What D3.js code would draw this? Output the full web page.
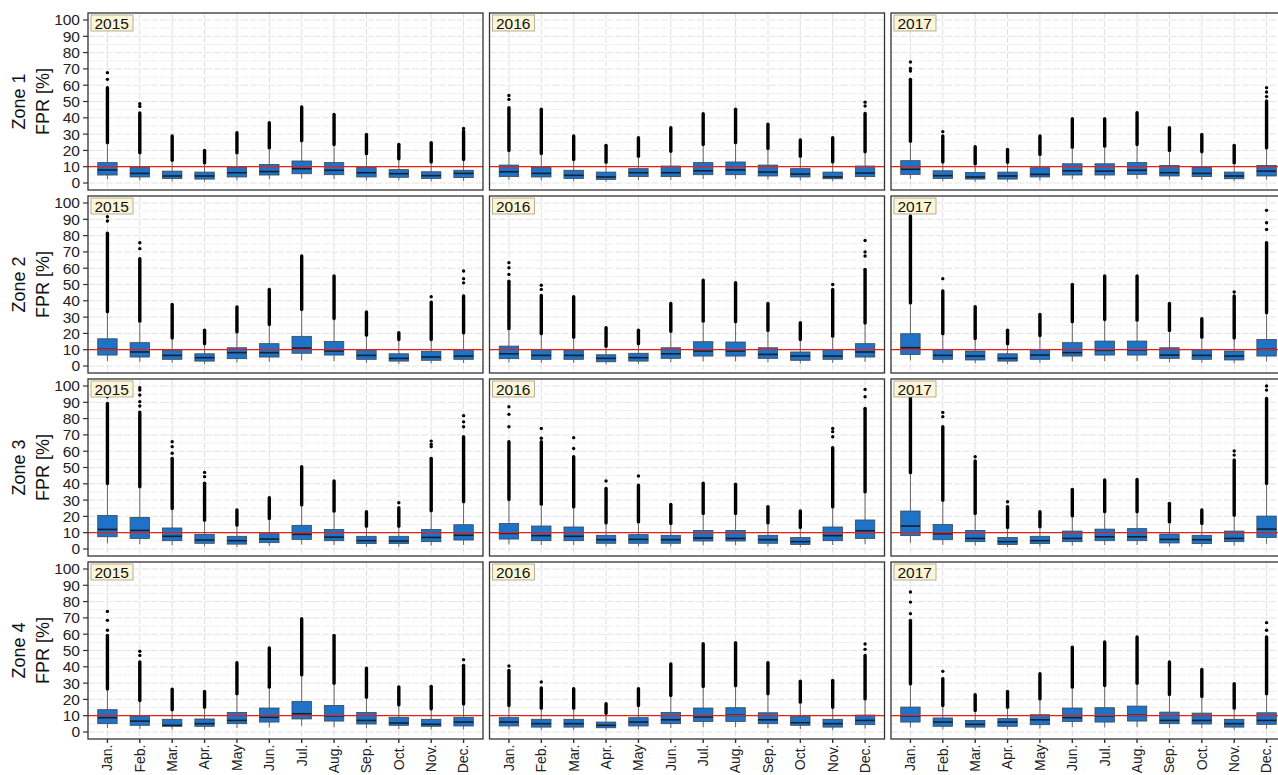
<!DOCTYPE html>
<html>
<head>
<meta charset="utf-8">
<script src="https://cdn.jsdelivr.net/npm/d3@7"></script>
<style>
  body { margin: 0; background: #fff; }
  svg text { font-family: "Liberation Sans", Arial, sans-serif; }
</style>
</head>
<body>
<div id="chart"></div>
<script>
var months = ["Jan.", "Feb.", "Mar.", "Apr.", "May", "Jun.", "Jul.", "Aug.", "Sep.", "Oct.", "Nov.", "Dec."];
var years = ["2015", "2016", "2017"];
var zones = ["Zone 1", "Zone 2", "Zone 3", "Zone 4"];
var yTicks = [0, 10, 20, 30, 40, 50, 60, 70, 80, 90, 100];
var threshold = 10;

// one row per month: [lower whisker, q1, median, q3, upper whisker, top of dense outliers, ...single outliers]
var z1_2015 = [
  [2.2, 4.9, 8, 12.5, 23.7, 58.5, 63.6, 67.7], [1.5, 3.7, 5.9, 9.6, 17.6, 43, 47, 48.6],
  [1, 2.8, 4.3, 7.3, 13, 28.8], [0.8, 2.4, 4.3, 6.7, 11.4, 20],
  [1.5, 3.7, 6.3, 9.6, 17.6, 30.9], [2.2, 4.9, 7, 11.4, 20.6, 37],
  [2.8, 5.7, 8.8, 13.5, 25, 46.6], [2.4, 5.1, 7.8, 12.5, 22.7, 42],
  [1.5, 3.7, 6.3, 9.6, 17, 29.8], [1.5, 3.5, 5.7, 8.2, 14, 23.7],
  [1, 2.8, 4.5, 6.9, 12, 24.7], [1.3, 3.3, 5.9, 7.8, 13.5, 31.9, 33.5]
];
var z2_2015 = [
  [3, 6.7, 10.2, 16.7, 32.3, 81.4, 89, 91.6], [2.5, 5.5, 8.6, 14.3, 26.6, 65.8, 72, 75.6],
  [1.8, 4.1, 6.5, 9.6, 16.3, 37.8], [1.2, 3, 5.1, 7.5, 12.7, 22],
  [2, 4.5, 8.2, 11.2, 20, 36.2], [2.5, 5.5, 8.2, 13.7, 24.5, 47],
  [3.5, 7.8, 11, 18.2, 33.7, 67.5], [3, 6.7, 9.2, 15.1, 28.2, 55.2],
  [1.8, 4.1, 6.5, 9.6, 18, 33.1], [1.2, 3, 4.7, 7.5, 15.3, 20.4],
  [1.5, 3.5, 5.5, 9, 15.3, 39.2, 42.5], [1.8, 4.1, 6.1, 10, 19.4, 43, 51, 53.6, 58.3]
];
var z3_2015 = [
  [3.5, 7.5, 12, 20.6, 39.2, 89.3, 93.4], [3, 6.5, 11.4, 19.4, 37.2, 84, 87.7, 90.4, 94.5, 97.5, 99],
  [2.2, 5.1, 7.8, 12.9, 23.9, 55.6, 58.7, 62.8, 65.8], [1.5, 3.5, 5.5, 9, 16.7, 40.3, 44.4, 47],
  [1.2, 3, 5.1, 7.8, 13.7, 23.9], [1.8, 3.9, 6.1, 9.4, 17.8, 31.5],
  [2.8, 5.9, 9, 14.5, 26, 50.5], [2.4, 5.1, 7.3, 12, 22.3, 41.7],
  [1.3, 3.3, 5.1, 7.8, 13, 22.9], [1.3, 3.3, 4.9, 7.8, 13, 25.3, 28.4],
  [2, 4.5, 7.1, 12, 22.5, 55.6, 62.8, 64.2, 66.2], [2.5, 5.5, 8.4, 14.9, 28, 68.9, 75, 78, 81.8]
];
var z4_2015 = [
  [2.4, 5.1, 8.8, 13.7, 25.5, 59.3, 62.4, 68.5, 74], [1.8, 4.1, 6.7, 9.8, 18.4, 43, 47, 49.5],
  [1.5, 3.5, 4.1, 7.8, 12.7, 26.2], [1.5, 3.5, 5.1, 8, 14.3, 24.9],
  [2.4, 5.1, 7.1, 12, 22.5, 42.5], [2.8, 6.1, 9, 14.7, 26.6, 51.5],
  [3.8, 8, 11.2, 18.8, 34.1, 69.5], [3, 6.7, 9.8, 16.3, 29, 59.3],
  [2.2, 4.9, 7.1, 12, 20.4, 39.2], [1.8, 4.1, 5.5, 9, 15.7, 27.6],
  [1.5, 3.5, 4.7, 7.8, 13.3, 28], [1.6, 3.7, 6.1, 9, 16.3, 40.9, 44.4]
];
var z1_2016 = [
  [1.8, 3.9, 6.9, 11, 19, 46.2, 51.3, 53.7], [1.5, 3.7, 5.9, 9.6, 17.2, 45.2],
  [1, 2.8, 4.7, 7.8, 13.5, 28.8], [0.8, 2.2, 3.7, 6.7, 11.8, 23.1],
  [1.8, 3.9, 6.3, 8.8, 15.5, 27.8], [1.8, 3.9, 6.3, 10.4, 18.6, 33.9],
  [2.4, 5.1, 7.5, 12.5, 22.7, 42.5], [2.4, 5.1, 8, 12.9, 23.7, 45.2],
  [2, 4.3, 6.7, 11, 20.2, 36], [1.5, 3.7, 5.5, 8.8, 15.5, 26.4],
  [1, 2.6, 3.7, 6.7, 12, 27.8], [1.8, 3.9, 6.1, 10.4, 18.2, 42.7, 47.2, 49.6]
];
var z2_2016 = [
  [2, 4.5, 7.5, 12.2, 22, 52, 56.2, 60.3, 63.4], [1.8, 4.1, 6.5, 10.2, 18.8, 43.3, 47, 49.5],
  [1.8, 4.1, 6.5, 9.6, 16.7, 42.5], [1, 2.6, 4.7, 6.9, 11.2, 23.5],
  [1.2, 3, 5.1, 7.8, 12.7, 22], [2.2, 4.7, 7.5, 11.2, 20.4, 38.4],
  [2.8, 6.1, 9.2, 14.9, 26.6, 52.7], [2.8, 6.1, 9.2, 14.7, 26.2, 51.1],
  [2.2, 4.7, 7.1, 11.2, 20.8, 38.4], [1.5, 3.5, 6.1, 8.6, 15.3, 26.6],
  [1.8, 4.1, 6.1, 10, 17.4, 47, 50], [2.5, 5.5, 8.6, 13.7, 25.5, 59.3, 67.5, 70, 77]
];
var z3_2016 = [
  [2.8, 6.1, 9.6, 15.7, 29.4, 65.8, 75, 82.6, 87.3], [2.4, 5.1, 8.2, 14.1, 26.6, 65.8, 67.9, 74],
  [2.4, 5.1, 7.8, 13.5, 24.9, 56.6, 61.7, 68.3], [1.5, 3.5, 5.7, 8.4, 15.1, 37.2, 41.7],
  [1.5, 3.5, 5.9, 8.8, 15.7, 39.2, 44.8], [1.5, 3.5, 5.7, 8.4, 14.7, 27.4],
  [2.2, 4.9, 6.7, 11.4, 20.8, 40.3], [2.2, 4.9, 6.5, 11.4, 20.8, 39.7],
  [1.5, 3.5, 5.7, 8.4, 15.1, 26], [1.2, 2.8, 4.5, 7.1, 12.2, 23.3],
  [2.4, 5.1, 8.2, 13.5, 24.9, 62.1, 68.9, 72, 74], [3, 6.5, 11.2, 17.8, 34.1, 86.3, 93.4, 97.9]
];
var z4_2016 = [
  [1.6, 3.7, 6.1, 8.8, 15.3, 37.8, 40.5], [1.2, 3, 5.1, 7.8, 13.7, 27, 30.7],
  [1.2, 3, 5.1, 7.8, 13.7, 26.6], [1, 2.6, 4.1, 6.1, 10.6, 17.4],
  [1.6, 3.7, 6.1, 8.8, 15.3, 26.6], [2.4, 5.1, 7.5, 12, 21.5, 41.7],
  [3, 6.5, 9.2, 14.7, 27, 54.2], [3, 6.5, 10.2, 14.9, 27.4, 54.8],
  [2.4, 5.1, 7.5, 11.8, 22.5, 42.5], [1.8, 4.1, 5.7, 9.6, 17.4, 31.1],
  [1.2, 3, 5.1, 7.8, 14.3, 31.7], [2, 4.5, 7.1, 10.4, 19.4, 47, 50.7, 54]
];
var z1_2017 = [
  [2.5, 5.3, 8.4, 13.7, 24.7, 63.6, 68.7, 70.2, 74.2], [1, 2.8, 4.5, 7.5, 12, 28.8, 31.5],
  [0.8, 2.4, 3.7, 6.5, 10.8, 22.3], [0.8, 2.4, 4.3, 6.7, 11.8, 20.6],
  [1.5, 3.7, 5.3, 9.4, 16.5, 28.8], [2.2, 4.9, 7.5, 11.8, 21, 39.4],
  [2.2, 4.9, 7.3, 11.8, 21.7, 39.4], [2.5, 5.3, 7.8, 12.5, 22.7, 43.1],
  [2, 4.3, 6.3, 10.8, 19, 33.9], [1.8, 3.9, 5.9, 9.8, 18.2, 29.8],
  [1, 2.6, 4.3, 6.7, 11.4, 23.1], [2, 4.3, 7.3, 10.8, 20.6, 50.3, 53, 55.8, 58.5]
];
var z2_2017 = [
  [3.5, 7.1, 11.2, 19.8, 37.8, 92], [1.8, 4.1, 6.5, 10.2, 18.8, 46, 53.6],
  [1.6, 3.7, 6.1, 9.2, 15.9, 36.4], [1.2, 3, 4.7, 7.5, 12.7, 21.9],
  [1.8, 4.1, 6.7, 10, 17.8, 31.7], [2.8, 6.1, 8.2, 14.3, 26.2, 50.1],
  [3, 6.7, 9.6, 15.3, 27.6, 55.2], [3, 6.7, 9.8, 15.3, 27.2, 55.2],
  [2.2, 4.7, 6.7, 11.2, 20.8, 38.4], [1.8, 4.1, 6.5, 10, 16.7, 29],
  [1.6, 3.7, 6.1, 9.2, 16.3, 42.9, 45.4], [2.8, 6.1, 10.2, 16.3, 31.7, 75.6, 83.8, 87.9, 95.5]
];
var z3_2017 = [
  [3.8, 8.2, 14.1, 23.3, 45.8, 94.5], [2.5, 5.7, 9.4, 15.1, 29, 75, 81.2, 83.8],
  [2, 4.5, 6.5, 11.4, 20.8, 54, 56.6], [1.2, 2.8, 4.5, 7.1, 12.2, 26, 29],
  [1.3, 3.3, 5.1, 7.8, 12.7, 22.9], [2, 4.5, 6.5, 11, 19.4, 36.6],
  [2.4, 5.1, 7.5, 12.2, 21.9, 42.3], [2.4, 5.1, 7.5, 12.5, 21.9, 42.7],
  [1.6, 3.7, 5.9, 9.2, 15.7, 28], [1.3, 3.3, 5.7, 8.4, 14.7, 23.9],
  [2, 4.5, 6.5, 11, 19.8, 54.6, 57.6, 60.1], [3.2, 7.1, 12.2, 20.2, 39.2, 92.4, 97.5, 100]
];
var z4_2017 = [
  [2.8, 6.1, 9.8, 15.3, 28.6, 68.5, 72.6, 79.7, 85.9], [1.5, 3.5, 6.1, 8.6, 15.3, 32.7, 37.2],
  [1.2, 3, 4.7, 7.1, 12.2, 22.9], [1.5, 3.5, 6.1, 8.2, 14.3, 24.9],
  [2, 4.5, 7.5, 10.6, 19.4, 35.8], [3, 6.5, 8.8, 14.7, 26.6, 52.1],
  [2.8, 6.1, 9.8, 14.9, 27.6, 55.2], [3, 6.7, 10.2, 15.9, 29, 58.3],
  [2.4, 5.1, 7.1, 12.2, 22.1, 42.9], [2.2, 4.9, 7.1, 11.6, 20.8, 38.4],
  [1.2, 3, 5.1, 7.8, 13.7, 29.6], [2, 4.7, 7.1, 11.8, 22.5, 58.3, 62.4, 67.1]
];

var panels = [
  [z1_2015, z1_2016, z1_2017],
  [z2_2015, z2_2016, z2_2017],
  [z3_2015, z3_2016, z3_2017],
  [z4_2015, z4_2016, z4_2017]
];

var W = 1278, H = 775;
var panelLeft = 88, panelTop = 13;
var panelW = 395, panelH = 177;
var colStep = 401.5, rowStep = 183;

var svg = d3.select("#chart").append("svg")
  .attr("width", W)
  .attr("height", H);

var x = d3.scalePoint().domain(months).range([0, panelW]).padding(0.6);
var y = d3.scaleLinear().domain([0, 100]).range([170, 7]);
var boxW = x.step() * 0.6;

function drawPanel(g, rows) {
  // grid
  g.append("rect")
    .attr("width", panelW).attr("height", panelH)
    .attr("fill", "#fff");
  g.selectAll("line.hgrid")
    .data(d3.range(0, 101, 5))
    .enter().append("line")
    .attr("class", "hgrid")
    .attr("x1", 0).attr("x2", panelW)
    .attr("y1", function(d) { return y(d); })
    .attr("y2", function(d) { return y(d); })
    .style("stroke", function(d) { return d % 10 ? "#eeeeee" : "#e4e4e4"; })
    .style("stroke-width", 1)
    .style("stroke-dasharray", "7,2");
  g.selectAll("line.vgrid")
    .data(months)
    .enter().append("line")
    .attr("class", "vgrid")
    .attr("x1", function(d) { return x(d); })
    .attr("x2", function(d) { return x(d); })
    .attr("y1", 0).attr("y2", panelH)
    .style("stroke", "#e0e0e0")
    .style("stroke-width", 1)
    .style("stroke-dasharray", "6,2");

  var boxes = g.selectAll("g.box")
    .data(rows)
    .enter().append("g")
    .attr("class", "box")
    .attr("transform", function(d, i) { return "translate(" + x(months[i]) + ",0)"; });

  // whiskers
  boxes.append("line")
    .attr("y1", function(d) { return y(d[0]); })
    .attr("y2", function(d) { return y(d[1]); })
    .style("stroke", "#666").style("stroke-width", 1);
  boxes.append("line")
    .attr("y1", function(d) { return y(d[3]); })
    .attr("y2", function(d) { return y(d[4]); })
    .style("stroke", "#666").style("stroke-width", 1);

  // dense outliers
  boxes.append("line")
    .attr("y1", function(d) { return y(d[4]) - 1.5; })
    .attr("y2", function(d) { return y(d[5]); })
    .style("stroke", "#000")
    .style("stroke-width", 3.4)
    .style("stroke-linecap", "round");
  boxes.selectAll("circle")
    .data(function(d) { return d.slice(6); })
    .enter().append("circle")
    .attr("cx", 0)
    .attr("cy", function(v) { return y(v); })
    .attr("r", 1.7)
    .attr("fill", "#000");

  boxes.append("rect")
    .attr("x", -boxW / 2)
    .attr("width", boxW)
    .attr("y", function(d) { return y(d[3]); })
    .attr("height", function(d) { return y(d[1]) - y(d[3]); })
    .attr("fill", "#1f73c6")
    .style("stroke", "#3b4652")
    .style("stroke-width", 0.8);
  boxes.append("line")
    .attr("x1", -boxW / 2).attr("x2", boxW / 2)
    .attr("y1", function(d) { return y(d[2]); })
    .attr("y2", function(d) { return y(d[2]); })
    .style("stroke", "#16202c")
    .style("stroke-width", 1.6);

  g.append("line")
    .attr("x1", 0).attr("x2", panelW)
    .attr("y1", y(threshold)).attr("y2", y(threshold))
    .style("stroke", "#e3221c")
    .style("stroke-width", 1.2);

  g.append("rect")
    .attr("width", panelW).attr("height", panelH)
    .attr("fill", "none")
    .style("stroke", "#333")
    .style("stroke-width", 1.3);
}

zones.forEach(function(zone, r) {
  var top = panelTop + r * rowStep;
  years.forEach(function(year, c) {
    var g = svg.append("g")
      .attr("transform", "translate(" + (panelLeft + c * colStep) + "," + top + ")");
    drawPanel(g, panels[r][c]);

    g.append("rect")
      .attr("x", 3).attr("y", 2)
      .attr("width", 42).attr("height", 16)
      .attr("fill", "#fdf6d6")
      .style("stroke", "#a59f8a")
      .style("stroke-width", 0.8);
    g.append("text")
      .attr("x", 6.5).attr("y", 15.5)
      .attr("font-size", 15.5)
      .attr("fill", "#111")
      .text(year);

    if (r === zones.length - 1) {
      var ax = g.append("g").attr("transform", "translate(0," + panelH + ")");
      ax.selectAll("line")
        .data(months)
        .enter().append("line")
        .attr("x1", function(d) { return x(d); })
        .attr("x2", function(d) { return x(d); })
        .attr("y1", 0).attr("y2", 4)
        .style("stroke", "#333").style("stroke-width", 1.4);
      ax.selectAll("text")
        .data(months)
        .enter().append("text")
        .attr("transform", function(d) { return "translate(" + x(d) + ",5.5) rotate(-90)"; })
        .attr("dy", "0.35em")
        .attr("text-anchor", "end")
        .attr("font-size", 14)
        .attr("fill", "#222")
        .text(function(d) { return d; });
    }
  });

  // left axis
  var yax = svg.append("g").attr("transform", "translate(" + panelLeft + "," + top + ")");
  yax.selectAll("line")
    .data(yTicks)
    .enter().append("line")
    .attr("x1", -5).attr("x2", 0)
    .attr("y1", function(d) { return y(d); })
    .attr("y2", function(d) { return y(d); })
    .style("stroke", "#333").style("stroke-width", 1.2);
  yax.selectAll("text")
    .data(yTicks)
    .enter().append("text")
    .attr("x", -8)
    .attr("y", function(d) { return y(d); })
    .attr("dy", "0.35em")
    .attr("text-anchor", "end")
    .attr("font-size", 15.5)
    .attr("fill", "#222")
    .text(function(d) { return d; });

  var cy = top + panelH / 2;
  svg.append("text")
    .attr("transform", "translate(25," + cy + ") rotate(-90)")
    .attr("text-anchor", "middle")
    .attr("font-size", 18)
    .attr("fill", "#111")
    .text(zone);
  svg.append("text")
    .attr("transform", "translate(49," + cy + ") rotate(-90)")
    .attr("text-anchor", "middle")
    .attr("font-size", 18)
    .attr("fill", "#111")
    .text("FPR [%]");
});
</script>
</body>
</html>
